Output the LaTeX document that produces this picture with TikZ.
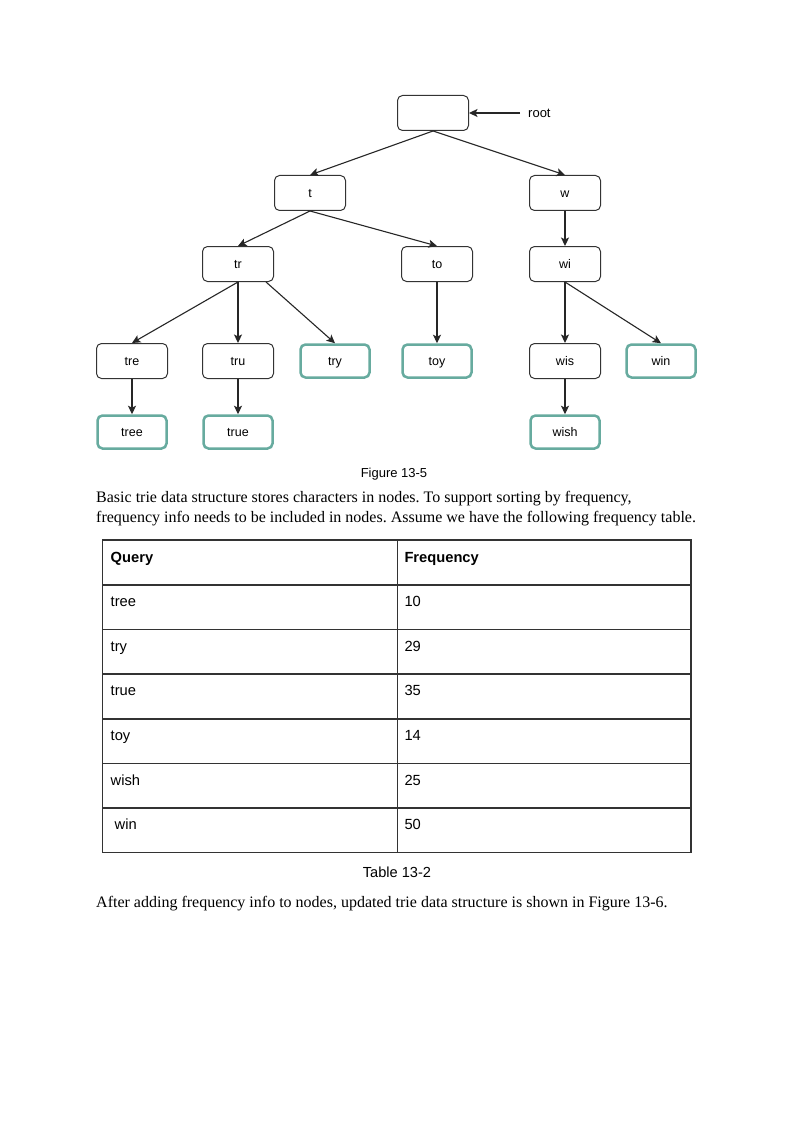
\documentclass[tikz,border=0pt]{standalone}
\usepackage{fontspec}
\setmainfont{Liberation Serif}
\setsansfont{Liberation Sans}
\usetikzlibrary{arrows.meta}
\definecolor{leafgreen}{HTML}{67AB9F}
\definecolor{boxline}{HTML}{333333}
\frenchspacing
\begin{document}
\begin{tikzpicture}[x=1pt,y=-1pt,
  box/.style={draw=boxline, line width=1pt, rounded corners=5pt, minimum width=71pt, minimum height=35pt, inner sep=0pt, text height=9pt, text depth=0pt, font=\sffamily\fontsize{12.5}{14}\selectfont},
  leaf/.style={box, draw=leafgreen, line width=2.5pt, minimum width=69pt, minimum height=33pt},
  arr/.style={-{Stealth[length=8.5pt,width=8pt,inset=2pt]}, line width=1.1pt, draw=black!85},
  body/.style={anchor=base west, inner sep=0pt, font=\rmfamily\fontsize{16}{20}\selectfont},
  captext/.style={anchor=base, inner sep=0pt, font=\sffamily\fontsize{13}{15}\selectfont},
  cell/.style={anchor=base west, inner sep=0pt, font=\sffamily\fontsize{14.7}{17}\selectfont},
  hcell/.style={cell, font=\sffamily\bfseries\fontsize{14.7}{17}\selectfont},
  tline/.style={draw=black!80, line width=1.1pt}
]
\useasboundingbox[fill=white] (0,0) rectangle (794,1123);

% tree nodes
\node[box] (root) at (433,113) {};
\node[anchor=west, inner xsep=8pt, inner ysep=0pt, font=\sffamily\fontsize{13}{15}\selectfont] (rootlbl) at (520,113) {root};
\node[box] (t) at (310,193) {t};
\node[box] (w) at (565,193) {w};
\node[box] (tr) at (238,264) {tr};
\node[box] (to) at (437,264) {to};
\node[box] (wi) at (565,264) {wi};
\node[box] (tre) at (132,361) {tre};
\node[box] (tru) at (238,361) {tru};
\node[leaf] (try) at (335,361) {try};
\node[leaf] (toy) at (437,361) {toy};
\node[box] (wis) at (565,361) {wis};
\node[leaf] (win) at (661,361) {win};
\node[leaf] (tree) at (132,432) {tree};
\node[leaf] (true) at (238,432) {true};
\node[leaf] (wish) at (565,432) {wish};

% connectors
\draw[arr] (rootlbl.west) -- (root.east);
\draw[arr] (root.south) -- (t.north);
\draw[arr] (root.south) -- (w.north);
\draw[arr] (t.south) -- (tr.north);
\draw[arr] (t.south) -- (to.north);
\draw[arr] (w.south) -- (wi.north);
\draw[arr] (tr.south) -- (tre.north);
\draw[arr] (tr.south) -- (tru.north);
\draw[arr] ([xshift=-8pt]tr.south east) -- (try.north);
\draw[arr] (to.south) -- (toy.north);
\draw[arr] (wi.south) -- (wis.north);
\draw[arr] (wi.south) -- (win.north);
\draw[arr] (tre.south) -- (tree.north);
\draw[arr] (tru.south) -- (true.north);
\draw[arr] (wis.south) -- (wish.north);

% caption and text
\node[captext] (fig) at (394,477) {Figure 13-5};
\node[body] (p1) at (96,502) {Basic trie data structure stores characters in nodes. To support sorting by frequency,};
\node[body] (p2) at (96,522) {frequency info needs to be included in nodes. Assume we have the following frequency table.};

% table
\draw[tline] (102.5,540) rectangle (691,852.5);
\draw[tline] (397.3,540) -- (397.3,852.5);
\foreach \yy in {585,629.5,674,719,763.5,808} {
  \draw[tline] (102.5,\yy) -- (691,\yy);
}
\node[hcell] (hq) at (110.5,562.3) {Query};
\node[hcell] (hf) at (404.3,562.3) {Frequency};
\node[cell] (q1) at (110.5,606.7) {tree};
\node[cell] (f1) at (404.3,606.7) {10};
\node[cell] (q2) at (110.5,651.2) {try};
\node[cell] (f2) at (404.3,651.2) {29};
\node[cell] (q3) at (110.5,695.7) {true};
\node[cell] (f3) at (404.3,695.7) {35};
\node[cell] (q4) at (110.5,740.4) {toy};
\node[cell] (f4) at (404.3,740.4) {14};
\node[cell] (q5) at (110.5,785) {wish};
\node[cell] (f5) at (404.3,785) {25};
\node[cell] (q6) at (114.5,829.7) {win};
\node[cell] (f6) at (404.3,829.7) {50};

\node[captext, font=\sffamily\fontsize{14.6}{17}\selectfont] (tab) at (397,877) {Table 13-2};
\node[body] (p3) at (96,907) {After adding frequency info to nodes, updated trie data structure is shown in Figure 13-6.};
\end{tikzpicture}
\end{document}
